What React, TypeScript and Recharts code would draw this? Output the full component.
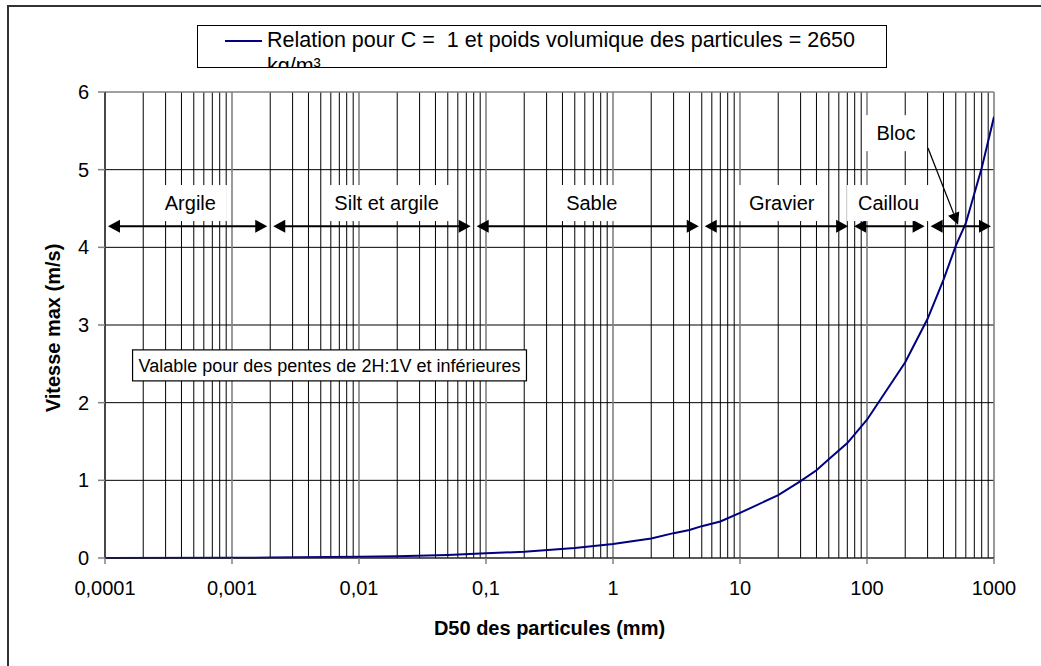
import { LineChart, Line, XAxis, YAxis, CartesianGrid, ReferenceLine, ReferenceDot } from 'recharts';

// particle size (mm) vs max speed (m/s)
const diameters = [0.0001, 0.001, 0.002, 0.01, 0.02, 0.05, 0.1, 0.2, 0.5, 1, 2, 3, 4, 5, 7, 10, 20, 30, 40, 50, 70, 100, 200, 300, 400, 500, 600, 800, 1000];
const speeds = [0, 0.003, 0.005, 0.015, 0.022, 0.04, 0.06, 0.08, 0.13, 0.18, 0.25, 0.32, 0.36, 0.41, 0.47, 0.58, 0.81, 0.99, 1.13, 1.27, 1.48, 1.78, 2.52, 3.08, 3.58, 4.02, 4.31, 5.02, 5.68];

const decades = [0.0001, 0.001, 0.01, 0.1, 1, 10, 100, 1000];
const speedTicks = [0, 1, 2, 3, 4, 5, 6];

const zoneNames = ['Argile', 'Silt et argile', 'Sable', 'Gravier', 'Caillou'];
const zoneLabelX = [0.00047, 0.0165, 0.68, 21.3, 148];
const zoneLabelY = 4.57;
const zoneFrom = [0.0001, 0.002, 0.08, 5, 75, 300];
const zoneTo = [0.002, 0.08, 5, 75, 300, 1000];
const zoneArrowY = 4.27;

const blocLabel = { x: 169, y: 5.47 };
const blocPointer = [{ x: 302, y: 5.28 }, { x: 521, y: 4.29 }];

const noteText = 'Valable pour des pentes de 2H:1V et inférieures';
const notePos = { x: 0.00586, y: 2.48 };

const legendText = 'Relation pour C =  1 et poids volumique des particules = 2650';
const legendUnit = 'kg/m³';

const data = diameters.map((d, i) => ({ d, v: speeds[i] }));

// log grid: 2..9 inside every decade
const minorTicks: number[] = [];
decades.slice(0, -1).forEach(dec => {
  for (let m = 2; m <= 9; m++) minorTicks.push(m * dec);
});

const FONT = '"Liberation Sans", Arial, sans-serif';

let ctx: CanvasRenderingContext2D | null = null;
function textWidth(text: string, size: number) {
  if (!ctx) ctx = document.createElement('canvas').getContext('2d');
  if (!ctx) return text.length * size * 0.5;
  ctx.font = `${size}px ${FONT}`;
  return ctx.measureText(text).width;
}

function BoxLabel(props: { cx?: number; cy?: number; text: string; size?: number; border?: boolean; padX?: number; h?: number }) {
  const { cx = 0, cy = 0, text, size = 20, border = false, padX = 11, h = 36 } = props;
  const w = textWidth(text, size) + padX * 2;
  return (
    <g>
      <rect x={cx - w / 2} y={cy - h / 2} width={w} height={h} fill="#fff" stroke={border ? '#000' : 'none'} strokeWidth={1.2} />
      <text x={cx} y={cy} dy="0.35em" textAnchor="middle" fontSize={size} fill="#000">{text}</text>
    </g>
  );
}

const HEAD_L = 12;
const HEAD_W = 6.5;

function DoubleArrow(p: any) {
  const { x1, y1, x2 } = p;
  const a = x1 + 3;
  const b = x2 - 3;
  return (
    <g>
      <line x1={a + 4} y1={y1} x2={b - 4} y2={y1} stroke="#000" strokeWidth={2} />
      <polygon points={`${a},${y1} ${a + HEAD_L},${y1 - HEAD_W} ${a + HEAD_L},${y1 + HEAD_W}`} fill="#000" />
      <polygon points={`${b},${y1} ${b - HEAD_L},${y1 - HEAD_W} ${b - HEAD_L},${y1 + HEAD_W}`} fill="#000" />
    </g>
  );
}

function PointerArrow(p: any) {
  const { x1, y1, x2, y2 } = p;
  const len = Math.hypot(x2 - x1, y2 - y1) || 1;
  const ux = (x2 - x1) / len;
  const uy = (y2 - y1) / len;
  const bx = x2 - ux * HEAD_L;
  const by = y2 - uy * HEAD_L;
  const nx = -uy * 6;
  const ny = ux * 6;
  return (
    <g>
      <line x1={x1} y1={y1} x2={bx} y2={by} stroke="#000" strokeWidth={1.3} />
      <polygon points={`${x2},${y2} ${bx + nx},${by + ny} ${bx - nx},${by - ny}`} fill="#000" />
    </g>
  );
}

const fmtDiameter = (v: number) => String(v).replace('.', ',');

export default function App() {
  return (
    <div style={{ position: 'fixed', left: 0, top: 0, width: 1041, height: 666, overflow: 'hidden', background: '#fff', fontFamily: FONT }}>
      <div style={{ position: 'absolute', left: 7, top: 5, width: 1100, height: 720, border: '2px solid #333', boxSizing: 'border-box' }} />
      <div style={{ position: 'absolute', left: 0, top: 0 }}>
        <LineChart width={1041} height={666} data={data} margin={{ top: 92, right: 47, bottom: 28, left: 0 }}>
          <CartesianGrid stroke="#000" strokeWidth={1} vertical={false} horizontalValues={[1, 2, 3, 4, 5]} />
          <XAxis
            dataKey="d"
            type="number"
            scale="log"
            domain={[0.0001, 1000]}
            allowDataOverflow
            ticks={decades}
            tickFormatter={fmtDiameter}
            tick={{ fontSize: 20, fill: '#000' }}
            tickSize={6}
            tickMargin={17}
            axisLine={{ stroke: '#222', strokeWidth: 1.5 }}
            tickLine={{ stroke: '#808080', strokeWidth: 1.5 }}
            height={80}
            label={{ value: 'D50 des particules (mm)', position: 'insideBottom', offset: 3, fontSize: 20, fontWeight: 'bold', fill: '#000' }}
          />
          <YAxis
            type="number"
            domain={[0, 6]}
            ticks={speedTicks}
            tick={{ fontSize: 20, fill: '#000' }}
            tickSize={7}
            tickMargin={9}
            axisLine={{ stroke: '#333', strokeWidth: 1.8 }}
            tickLine={{ stroke: '#808080', strokeWidth: 1.5 }}
            width={105}
            label={{ value: 'Vitesse max (m/s)', position: 'center', angle: -90, dy: 3, fontSize: 20, fontWeight: 'bold', fill: '#000' }}
          />
          {minorTicks.map(t => (
            <ReferenceLine key={`m-${t}`} x={t} stroke="#000" strokeWidth={1} ifOverflow="visible" />
          ))}
          {decades.slice(1).map(t => (
            <ReferenceLine key={`d-${t}`} x={t} stroke="#808080" strokeWidth={1.6} ifOverflow="visible" />
          ))}
          <ReferenceLine y={6} stroke="#808080" strokeWidth={1.6} ifOverflow="visible" />
          <Line
            type="linear"
            dataKey="v"
            stroke="#000080"
            strokeWidth={2}
            dot={false}
            activeDot={false}
            isAnimationActive={false}
          />
          {zoneFrom.map((from, i) => (
            <ReferenceLine
              key={`zone-${i}`}
              segment={[{ x: from, y: zoneArrowY }, { x: zoneTo[i], y: zoneArrowY }]}
              ifOverflow="visible"
              shape={DoubleArrow}
            />
          ))}
          <ReferenceLine segment={blocPointer} ifOverflow="visible" shape={PointerArrow} />
          {zoneNames.map((name, i) => (
            <ReferenceDot
              key={name}
              x={zoneLabelX[i]}
              y={zoneLabelY}
              ifOverflow="visible"
              shape={(p: any) => <BoxLabel cx={p.cx} cy={p.cy} text={name} />}
            />
          ))}
          <ReferenceDot
            x={blocLabel.x}
            y={blocLabel.y}
            ifOverflow="visible"
            shape={(p: any) => <BoxLabel cx={p.cx} cy={p.cy} text="Bloc" />}
          />
          <ReferenceDot
            x={notePos.x}
            y={notePos.y}
            ifOverflow="visible"
            shape={(p: any) => <BoxLabel cx={p.cx} cy={p.cy} text={noteText} size={18} border padX={6} h={31} />}
          />
        </LineChart>
      </div>
      <div style={{ position: 'absolute', left: 197, top: 25, width: 690, height: 43, border: '1px solid #000', boxSizing: 'border-box', background: '#fff', overflow: 'hidden' }}>
        <div style={{ position: 'absolute', left: 27, top: 14, width: 37, height: 2, background: '#000080' }} />
        <div style={{ position: 'absolute', left: 69, top: 1, fontSize: 21.5, lineHeight: '26px', color: '#000', whiteSpace: 'pre' }}>
          {legendText}
          <br />
          {legendUnit}
        </div>
      </div>
    </div>
  );
}
